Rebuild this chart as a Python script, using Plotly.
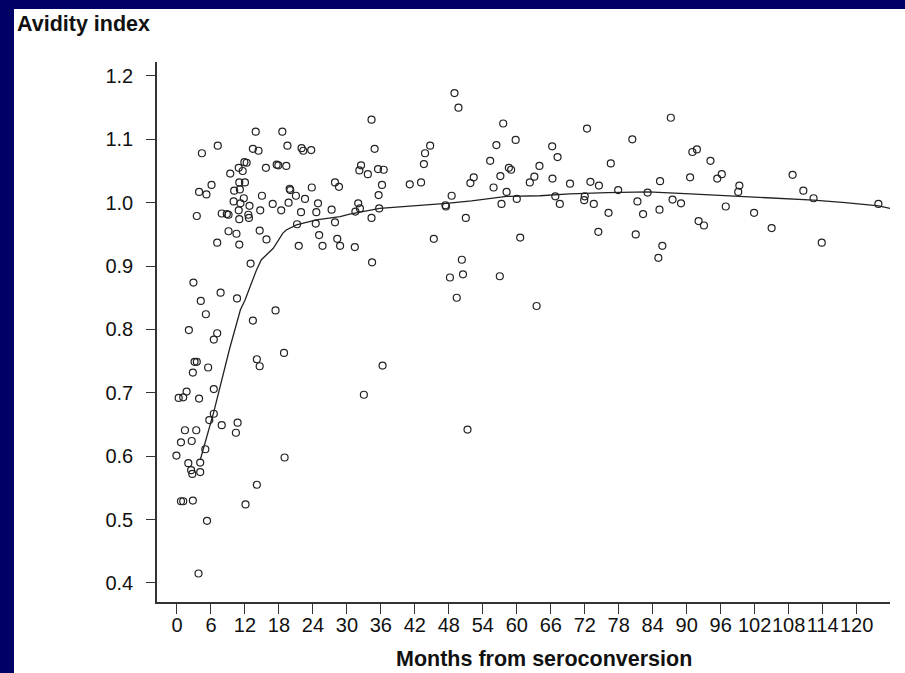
import plotly.graph_objects as go

# Scatter data: months from seroconversion and avidity index
months = [
    7.7, 10.6, 4.2, 5.1, 17.4, 13.4, 2.1, 7.1, 6.5, 18.9, 3.1, 3.5, 5.5, 2.8, 14.1, 14.6,
    6.5, 1.7, 0.3, 1.1, 3.9, 6.5, 5.7, 7.9, 10.7, 10.4, 1.4, 3.4, 0.7, 2.6, -0.1, 5.0,
    19.0, 2.0, 4.1, 2.5, 2.7, 4.1, 0.7, 1.1, 2.8, 14.1, 12.1, 5.3, 3.8,
    13.9, 18.6, 7.2, 4.4, 13.4, 14.4, 19.5, 22.0, 22.3, 23.7, 11.9, 12.3, 11.6, 9.4, 10.9,
    15.7, 17.6, 17.9, 19.3, 6.1, 3.9, 5.2, 11.0, 12.0, 10.1, 11.1, 19.9, 20.0, 23.8, 27.9,
    28.6, 15.0, 21.0, 22.6, 10.0, 11.2, 11.8, 12.8, 16.9, 19.7, 24.9, 3.5, 7.9, 8.8, 9.1,
    10.9, 11.0, 12.6, 12.7, 14.7, 18.4, 21.9, 24.6, 27.3, 9.1, 10.5, 14.6, 21.2, 24.5,
    27.9, 7.1, 11.0, 15.8, 25.1, 21.5, 25.7, 28.3, 28.8, 13.0, 2.9,
    49.0, 49.7, 34.35, 57.6, 59.8, 34.9, 44.7, 43.8, 43.6, 56.4, 55.3, 32.5, 32.2, 33.7,
    35.5, 36.5, 36.2, 35.6, 41.1, 43.1, 52.4, 51.8, 58.6, 59.0, 57.1, 55.9, 58.2, 60.0,
    57.3, 62.3, 63.1, 64.0, 32.0, 32.3, 31.5, 35.7, 34.35, 31.4, 34.45, 47.4, 47.5, 48.5,
    51.0, 45.35, 50.3, 48.2, 50.5, 57.0, 60.6,
    49.4, 63.5, 36.3, 33.0, 51.3,
    87.2, 72.4, 80.4, 66.25, 67.2, 91.0, 91.8, 94.2, 76.6, 66.3, 69.4, 73.0, 74.5, 77.9,
    85.3, 90.6, 95.4, 96.2, 66.8, 67.6, 72.0, 71.9, 73.6, 76.2, 81.3, 83.1, 82.3, 85.2,
    87.5, 89.0, 96.9, 92.1, 93.05, 74.4, 81.0, 85.7, 85.0,
    108.7, 99.3, 99.1, 110.6, 112.4, 101.9, 105.0, 113.85, 123.85, 127.2,
]
avidity = [
    0.858, 0.849, 0.845, 0.824, 0.830, 0.814, 0.799, 0.794, 0.784, 0.763, 0.749, 0.749,
    0.740, 0.732, 0.753, 0.742, 0.706, 0.702, 0.692, 0.693, 0.691, 0.667, 0.657, 0.649,
    0.653, 0.637, 0.641, 0.641, 0.622, 0.624, 0.601, 0.611, 0.598, 0.589, 0.590, 0.578,
    0.572, 0.575, 0.529, 0.529, 0.530, 0.555, 0.524, 0.498, 0.415,
    1.112, 1.112, 1.090, 1.078, 1.085, 1.082, 1.090, 1.086, 1.082, 1.083, 1.064, 1.063,
    1.050, 1.046, 1.055, 1.055, 1.060, 1.059, 1.058, 1.028, 1.017, 1.013, 1.032, 1.032,
    1.019, 1.021, 1.022, 1.020, 1.024, 1.032, 1.025, 1.011, 1.011, 1.006, 1.002, 0.999,
    1.007, 0.995, 0.998, 1.000, 0.999, 0.979, 0.983, 0.982, 0.981, 0.988, 0.974, 0.981,
    0.976, 0.988, 0.988, 0.985, 0.985, 0.989, 0.955, 0.951, 0.956, 0.966, 0.967, 0.969,
    0.937, 0.934, 0.942, 0.949, 0.932, 0.932, 0.943, 0.932, 0.904, 0.874,
    1.173, 1.150, 1.131, 1.125, 1.099, 1.085, 1.090, 1.078, 1.061, 1.091, 1.066, 1.059,
    1.051, 1.045, 1.053, 1.052, 1.028, 1.012, 1.029, 1.032, 1.040, 1.031, 1.055, 1.052,
    1.042, 1.024, 1.017, 1.006, 0.998, 1.032, 1.041, 1.058, 0.999, 0.991, 0.986, 0.991,
    0.976, 0.930, 0.906, 0.996, 0.994, 1.011, 0.976, 0.943, 0.910, 0.882, 0.887, 0.884,
    0.945,
    0.850, 0.837, 0.743, 0.697, 0.642,
    1.134, 1.117, 1.100, 1.089, 1.072, 1.080, 1.084, 1.066, 1.062, 1.038, 1.030, 1.033,
    1.027, 1.020, 1.034, 1.040, 1.038, 1.045, 1.010, 0.998, 1.010, 1.004, 0.998, 0.984,
    1.002, 1.016, 0.982, 0.989, 1.005, 0.999, 0.994, 0.971, 0.964, 0.954, 0.950, 0.932,
    0.913,
    1.044, 1.027, 1.017, 1.019, 1.007, 0.984, 0.960, 0.937, 0.998, 0.991,
]

# Smoothed curve
curve_months = [4.1, 6.5, 9.3, 11.2, 12.0, 12.5, 14.0, 14.9, 17.0, 18.7, 19.3, 21.1, 24.6,
                28.8, 30.5, 35.8, 40.5, 47.6, 52.0, 58.2, 64.1, 69.4, 76.0, 83.2, 90.6,
                97.6, 105.0, 112.4, 118.0, 123.9, 126.5]
curve_values = [0.594, 0.670, 0.770, 0.831, 0.846, 0.858, 0.893, 0.910, 0.928, 0.952, 0.957,
                0.965, 0.973, 0.978, 0.982, 0.991, 0.994, 0.999, 1.003, 1.010, 1.011, 1.014,
                1.016, 1.017, 1.014, 1.011, 1.008, 1.004, 1.000, 0.995, 0.990]

x_ticks = list(range(0, 121, 6))
x_ticktext = [str(v) for v in x_ticks]
y_ticks = [0.4, 0.5, 0.6, 0.7, 0.8, 0.9, 1.0, 1.1, 1.2]
y_ticktext = ["0.4", "0.5", "0.6", "0.7", "0.8", "0.9", "1.0", "1.1", "1.2"]

FONT = "Liberation Sans, Arial, sans-serif"
NAVY = "#000066"

fig = go.Figure()
fig.add_trace(go.Scatter(
    x=months, y=avidity, mode="markers",
    marker=dict(symbol="circle-open", size=7, color="#222222", line=dict(width=1.2, color="#222222")),
    cliponaxis=False, showlegend=False, hoverinfo="skip",
))
fig.add_trace(go.Scatter(
    x=curve_months, y=curve_values, mode="lines",
    line=dict(color="#222222", width=1.3),
    cliponaxis=False, showlegend=False, hoverinfo="skip",
))

W, H = 905, 673
L, R, T, B = 157, 15, 62, 71
pw = W - L - R
ph = H - T - B

def px_x(px):
    return (px - L) / pw

def px_y(py):
    return (H - B - py) / ph

fig.update_layout(
    width=W, height=H,
    margin=dict(l=L, r=R, t=T, b=B, pad=0, autoexpand=False),
    paper_bgcolor="white",
    plot_bgcolor="white",
    font=dict(family=FONT, size=20, color="#111111"),
    shapes=[
        dict(type="rect", xref="paper", yref="paper", layer="below",
             x0=px_x(0), x1=px_x(W), y0=px_y(9), y1=px_y(0),
             fillcolor=NAVY, line=dict(width=0)),
        dict(type="rect", xref="paper", yref="paper", layer="below",
             x0=px_x(0), x1=px_x(14), y0=px_y(H), y1=px_y(0),
             fillcolor=NAVY, line=dict(width=0)),
    ],
    annotations=[
        dict(text="<b>Avidity index</b>", xref="paper", yref="paper",
             x=px_x(16), y=px_y(24), xanchor="left", yanchor="middle",
             showarrow=False, borderpad=0,
             font=dict(family=FONT, size=21.5, color="#111111")),
        dict(text="<b>Months from seroconversion</b>", xref="paper", yref="paper",
             x=px_x(544), y=px_y(659), xanchor="center", yanchor="middle",
             showarrow=False, borderpad=0,
             font=dict(family=FONT, size=21.5, color="#111111")),
    ],
    xaxis=dict(
        range=[-3.53, 125.9], showgrid=False, zeroline=False,
        showline=True, linecolor="#333333", linewidth=1.5,
        ticks="outside", ticklen=10, tickwidth=1.3, tickcolor="#333333",
        tickvals=x_ticks, ticktext=x_ticktext, tickangle=0, ticklabelstandoff=-6,
        tickfont=dict(family=FONT, size=20, color="#111111"),
    ),
    yaxis=dict(
        range=[0.37, 1.222], showgrid=False, zeroline=False,
        showline=True, linecolor="#333333", linewidth=1.5,
        ticks="outside", ticklen=9, tickwidth=1.3, tickcolor="#333333",
        tickvals=y_ticks, ticktext=y_ticktext, ticklabelstandoff=9,
        tickfont=dict(family=FONT, size=20, color="#111111"),
    ),
)

fig.write_html("out.html", config={"displayModeBar": False},
               post_script="document.body.style.margin='0';")
